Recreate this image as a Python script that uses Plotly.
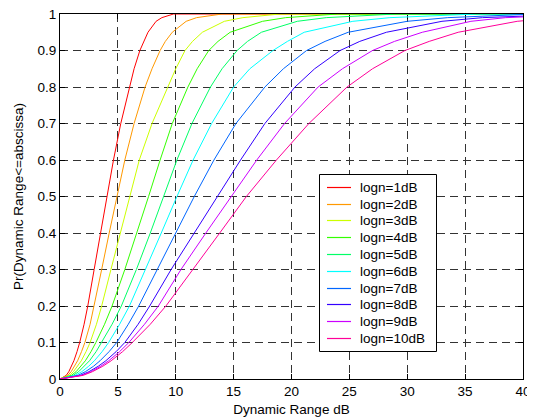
import plotly.graph_objects as go

# Probability levels (y) and, for each curve, the dB value (x) where it reaches each level
levels = [0, 0.01, 0.02, 0.035, 0.05, 0.075, 0.1, 0.15, 0.2, 0.3, 0.4, 0.5, 0.6, 0.7,
          0.8, 0.85, 0.9, 0.925, 0.95, 0.98, 0.99, 1.0]

x_1dB = [0, 0.54, 0.76, 1.0, 1.2, 1.47, 1.7, 2.08, 2.4, 2.95, 3.5, 4.05, 4.62, 5.25,
         5.98, 6.4, 6.9, 7.22, 7.6, 8.3, 8.8, 9.8]
x_2dB = [0, 0.68, 0.96, 1.27, 1.52, 1.86, 2.15, 2.6, 2.95, 3.6, 4.25, 4.9, 5.6, 6.4,
         7.35, 7.95, 8.65, 9.1, 9.7, 10.9, 11.8, 14.0]
x_3dB = [0, 0.82, 1.16, 1.54, 1.84, 2.25, 2.6, 3.15, 3.6, 4.4, 5.2, 6.0, 6.85, 7.95,
         9.3, 10.0, 10.8, 11.45, 12.3, 14.2, 15.8, 19.0]
x_4dB = [0, 0.98, 1.39, 1.83, 2.19, 2.68, 3.1, 3.85, 4.5, 5.6, 6.65, 7.65, 8.65, 9.7,
         11.05, 11.85, 12.85, 13.65, 14.7, 17.5, 19.5, 24.0]
x_5dB = [0, 1.14, 1.61, 2.12, 2.55, 3.12, 3.6, 4.5, 5.3, 6.6, 7.8, 8.95, 10.1, 11.4,
         13.0, 14.0, 15.3, 16.2, 17.4, 20.5, 23.0, 29.0]
x_6dB = [0, 1.33, 1.88, 2.48, 2.97, 3.64, 4.2, 5.15, 6.0, 7.4, 8.75, 10.1, 11.5, 13.1,
         15.0, 16.4, 18.4, 19.65, 21.1, 25.3, 28.5, 36.0]
x_7dB = [0, 1.55, 2.19, 2.9, 3.46, 4.24, 4.9, 5.9, 6.8, 8.4, 9.95, 11.6, 13.3, 15.2,
         17.7, 19.3, 21.3, 22.9, 24.9, 30.0, 33.5, 41.0]
x_8dB = [0, 1.77, 2.5, 3.31, 3.96, 4.85, 5.6, 6.75, 7.75, 9.6, 11.6, 13.6, 15.6, 17.7,
         20.3, 22.0, 24.2, 25.9, 28.2, 33.0, 36.5, 45.0]
x_9dB = [0, 1.88, 2.66, 3.52, 4.21, 5.15, 5.95, 7.3, 8.5, 10.45, 12.6, 14.8, 17.0, 19.4,
         22.3, 24.4, 27.0, 28.9, 31.3, 35.5, 38.5, 46.0]
x_10dB = [0, 2.0, 2.8, 3.7, 4.42, 5.41, 6.25, 7.8, 9.15, 11.5, 13.8, 16.1, 18.7, 21.5,
          24.8, 27.0, 29.8, 31.9, 34.4, 39.5, 43.0, 52.0]

series_names = ["logn=1dB", "logn=2dB", "logn=3dB", "logn=4dB", "logn=5dB",
                "logn=6dB", "logn=7dB", "logn=8dB", "logn=9dB", "logn=10dB"]
series_x = [x_1dB, x_2dB, x_3dB, x_4dB, x_5dB, x_6dB, x_7dB, x_8dB, x_9dB, x_10dB]
colors = ["#FF0000", "#FF9900", "#CCFF00", "#33FF00", "#00FF66",
          "#00FFFF", "#0066FF", "#3300FF", "#CC00FF", "#FF0099"]

x_ticks = [0, 5, 10, 15, 20, 25, 30, 35, 40]
y_ticks = [0, 0.1, 0.2, 0.3, 0.4, 0.5, 0.6, 0.7, 0.8, 0.9, 1]

# The page body has an 8px default margin, so the figure is sized to fill the rest
OFF = 8
PAGE_W, PAGE_H = 535, 418
W, H = PAGE_W - OFF, PAGE_H - OFF
PL, PR, PT, PB = 60, 523, 14, 379          # plot-area edges in page pixels
ML, MR, MT, MB = PL - OFF, PAGE_W - PR, PT - OFF, PAGE_H - PB
PW, PH = PR - PL, PB - PT

fig = go.Figure()
for name, xs, c in zip(series_names, series_x, colors):
    xx = list(xs)
    yy = list(levels)
    if xx[-1] < 40:
        xx.append(40)
        yy.append(1.0)
    fig.add_trace(go.Scatter(x=xx, y=yy, mode="lines", name=name, showlegend=False,
                             line=dict(color=c, width=1)))

FAM = "Liberation Sans, Arial, sans-serif"
font = dict(family=FAM, size=13.5, color="black")

axis_common = dict(showline=True, linecolor="black", linewidth=1, mirror="ticks",
                   ticks="inside", ticklen=5, tickcolor="black",
                   showgrid=True, gridcolor="#333333", gridwidth=1, griddash="8px,5px",
                   zeroline=False, layer="below traces", tickfont=font, automargin=False,
                   ticklabeloverflow="allow")

fig.update_xaxes(range=[0, 40], tickvals=x_ticks, ticktext=[str(v) for v in x_ticks],
                 title=dict(text="Dynamic Range dB", font=font, standoff=6), **axis_common)
fig.update_yaxes(range=[0, 1], tickvals=y_ticks,
                 ticktext=["0" if v == 0 else ("1" if v == 1 else f"{v:.1f}") for v in y_ticks],
                 title=dict(text="Pr(Dynamic Range<=abscissa)", font=font, standoff=10), **axis_common)

# Compact MATLAB-style legend drawn in paper coordinates
def px_x(p):
    return (p - PL) / PW

def px_y(p):
    return (PB - p) / PH

box_l, box_r, box_t, box_b = 319.5, 436.5, 174.5, 351.5
first_row, row_step = 187.5, 16.75
shapes = [dict(type="rect", xref="paper", yref="paper",
               x0=px_x(box_l), x1=px_x(box_r), y0=px_y(box_b), y1=px_y(box_t),
               line=dict(color="black", width=1), fillcolor="white", layer="above")]
annotations = []
for i, (name, c) in enumerate(zip(series_names, colors)):
    yc = round(first_row + i * row_step - 0.5) + 0.5
    shapes.append(dict(type="line", xref="paper", yref="paper",
                       x0=px_x(327), x1=px_x(351), y0=px_y(yc), y1=px_y(yc),
                       line=dict(color=c, width=1.2), layer="above"))
    annotations.append(dict(text=name, xref="paper", yref="paper", x=px_x(358), y=px_y(yc),
                            xanchor="left", yanchor="middle", showarrow=False,
                            font=font))

fig.update_layout(
    width=W, height=H,
    margin=dict(l=ML, r=MR, t=MT, b=MB),
    paper_bgcolor="white", plot_bgcolor="white",
    font=font,
    showlegend=False,
    shapes=shapes,
    annotations=annotations,
)

fig.write_html("out.html")
